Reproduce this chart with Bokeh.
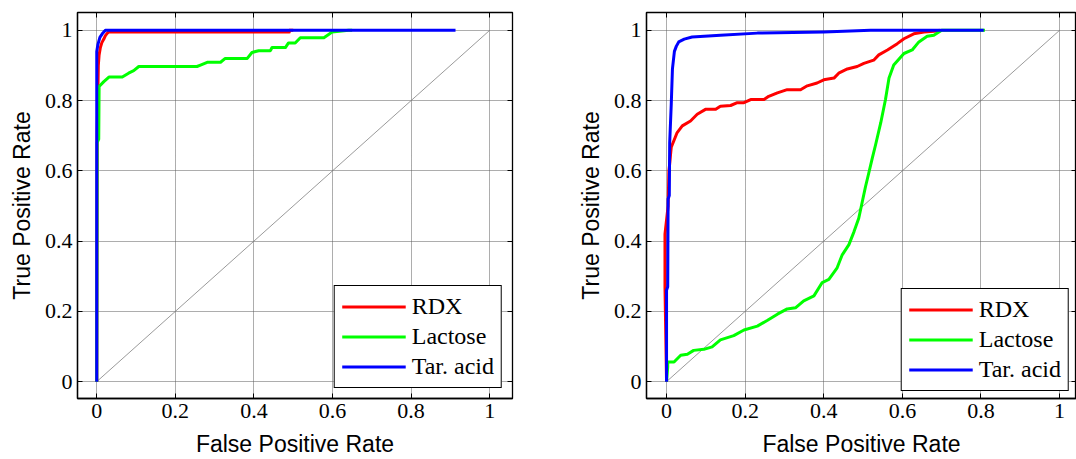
from bokeh.plotting import figure
from bokeh.models import Range1d, LinearAxis, FixedTicker, Legend, LegendItem
from bokeh.layouts import row
from bokeh.embed import file_html
from bokeh.resources import INLINE

# ---------------- data ----------------
tick_values = [0, 0.2, 0.4, 0.6, 0.8, 1]
tick_labels = ["0", "0.2", "0.4", "0.6", "0.8", "1"]
series_names = ["RDX", "Lactose", "Tar. acid"]
series_colors = ["#ff0000", "#00ff00", "#0000ff"]
x_title = "False Positive Rate"
y_title = "True Positive Rate"

chance_fpr = [0, 1]
chance_tpr = [0, 1]

# left panel
left_rdx_fpr = [0, 0.001, 0.004, 0.006, 0.009, 0.013, 0.018, 0.022, 0.027, 0.03, 0.49, 0.49, 0.5]
left_rdx_tpr = [0, 0.70, 0.90, 0.93, 0.95, 0.965, 0.975, 0.985, 0.992, 0.995, 0.995, 1.0, 1.0]

left_lac_fpr = [0, 0.001, 0.005, 0.006, 0.018, 0.031, 0.065, 0.081, 0.094, 0.107, 0.255, 0.264, 0.281,
                0.315, 0.327, 0.383, 0.395, 0.412, 0.442, 0.446, 0.480, 0.488, 0.505, 0.518, 0.578,
                0.590, 0.599, 0.641, 0.65]
left_lac_tpr = [0, 0.68, 0.69, 0.84, 0.854, 0.867, 0.867, 0.878, 0.885, 0.897, 0.897, 0.901, 0.909,
                0.909, 0.920, 0.920, 0.937, 0.942, 0.942, 0.951, 0.951, 0.964, 0.964, 0.979, 0.979,
                0.988, 0.995, 1.0, 1.0]

left_tar_fpr = [0, 0, 0.003, 0.008, 0.014, 0.022, 0.913]
left_tar_tpr = [0, 0.94, 0.96, 0.98, 0.99, 1.0, 1.0]

# right panel
right_rdx_fpr = [0, -0.004, -0.004, 0.004, 0.006, 0.008, 0.010, 0.012, 0.027, 0.040, 0.061, 0.078, 0.099,
                 0.125, 0.137, 0.163, 0.180, 0.197, 0.214, 0.248, 0.260, 0.282, 0.307, 0.341, 0.358,
                 0.383, 0.400, 0.426, 0.438, 0.460, 0.485, 0.502, 0.527, 0.540, 0.562, 0.587, 0.604,
                 0.629, 0.655, 0.689, 0.695]
right_rdx_tpr = [0, 0.27, 0.42, 0.50, 0.60, 0.62, 0.645, 0.667, 0.709, 0.728, 0.742, 0.761, 0.775,
                 0.775, 0.784, 0.786, 0.794, 0.794, 0.803, 0.803, 0.812, 0.822, 0.831, 0.831, 0.842,
                 0.850, 0.859, 0.864, 0.878, 0.890, 0.897, 0.906, 0.915, 0.930, 0.944, 0.962, 0.976,
                 0.990, 0.995, 0.998, 1.0]

right_lac_fpr = [0, 0.003, 0.003, 0.019, 0.036, 0.053, 0.069, 0.095, 0.116, 0.137, 0.171, 0.197, 0.231,
                 0.256, 0.282, 0.307, 0.328, 0.349, 0.375, 0.396, 0.413, 0.434, 0.447, 0.464, 0.477,
                 0.489, 0.498, 0.506, 0.515, 0.523, 0.532, 0.545, 0.557, 0.566, 0.578, 0.604, 0.625,
                 0.642, 0.663, 0.680, 0.693, 0.700, 0.810]
right_lac_tpr = [0, 0.042, 0.056, 0.056, 0.075, 0.078, 0.089, 0.092, 0.099, 0.119, 0.131, 0.147, 0.158,
                 0.174, 0.192, 0.207, 0.210, 0.230, 0.244, 0.282, 0.291, 0.324, 0.361, 0.390, 0.427,
                 0.465, 0.512, 0.554, 0.596, 0.634, 0.675, 0.737, 0.803, 0.864, 0.901, 0.934, 0.944,
                 0.967, 0.983, 0.986, 0.995, 1.0, 1.0]

right_tar_fpr = [0, 0, 0.003, 0.004, 0.007, 0.008, 0.012, 0.015, 0.020, 0.025, 0.031, 0.045, 0.065,
                 0.137, 0.231, 0.400, 0.519, 0.807]
right_tar_tpr = [0, 0.26, 0.27, 0.52, 0.53, 0.68, 0.79, 0.89, 0.94, 0.955, 0.967, 0.975, 0.981,
                 0.986, 0.992, 0.995, 1.0, 1.0]


def build_panel(curves, x_start, x_end, y_start, y_end, width, border_left, border_right, legend_margin):
    p = figure(width=width, height=459,
               x_range=Range1d(x_start, x_end), y_range=Range1d(y_start, y_end),
               output_backend="svg", toolbar_location=None,
               min_border_left=border_left, min_border_right=border_right,
               min_border_top=12, min_border_bottom=57,
               background_fill_color="white", border_fill_color="white")
    p.outline_line_color = "black"
    p.outline_line_width = 1.3
    p.outline_line_alpha = 1

    overrides = {v: l for v, l in zip(tick_values, tick_labels)}
    for ax in (p.xaxis[0], p.yaxis[0]):
        ax.ticker = FixedTicker(ticks=tick_values)
        ax.major_label_overrides = overrides
        ax.major_label_text_font = "Liberation Serif"
        ax.major_label_text_font_size = "22px"
        ax.major_label_text_color = "black"
        ax.major_tick_in = 5
        ax.major_tick_out = 0
        ax.minor_tick_in = 0
        ax.minor_tick_out = 0
        ax.axis_line_color = "black"
        ax.axis_line_width = 1.3
        ax.major_tick_line_color = "black"
        ax.axis_label_text_font = "Liberation Sans"
        ax.axis_label_text_font_size = "23px"
        ax.axis_label_text_font_style = "normal"
        ax.axis_label_text_color = "black"
    p.xaxis[0].axis_label = x_title
    p.yaxis[0].axis_label = y_title
    p.xaxis[0].major_label_standoff = 5
    p.xaxis[0].axis_label_standoff = 10
    p.yaxis[0].major_label_standoff = 5
    p.yaxis[0].axis_label_standoff = 7

    for side in ("above", "right"):
        ax = LinearAxis(ticker=FixedTicker(ticks=tick_values),
                        major_tick_in=5, major_tick_out=0,
                        minor_tick_in=0, minor_tick_out=0,
                        major_label_text_font_size="0px",
                        major_label_text_color=None,
                        major_label_standoff=0,
                        axis_line_color="black", major_tick_line_color="black")
        p.add_layout(ax, side)

    for g in (p.xgrid[0], p.ygrid[0]):
        g.grid_line_color = "#5a5a5a"
        g.grid_line_dash = "1 1"
        g.grid_line_width = 1

    p.line(chance_fpr, chance_tpr, line_color="#808080", line_width=0.8)

    items = []
    for name, color, xs, ys in curves:
        r = p.line(xs, ys, line_color=color, line_width=3, line_join="round")
        items.append(LegendItem(label=name, renderers=[r]))

    legend = Legend(items=items, location="bottom_right", margin=legend_margin,
                    border_line_color="black", border_line_width=1.3, border_line_alpha=1,
                    background_fill_color="white", background_fill_alpha=1,
                    label_text_font="Liberation Serif", label_text_font_size="24px",
                    label_text_color="black",
                    glyph_width=64, glyph_height=27, label_height=27, label_standoff=6,
                    spacing=3, padding=7)
    p.add_layout(legend)
    return p


left_curves = [
    (series_names[0], series_colors[0], left_rdx_fpr, left_rdx_tpr),
    (series_names[1], series_colors[1], left_lac_fpr, left_lac_tpr),
    (series_names[2], series_colors[2], left_tar_fpr, left_tar_tpr),
]
right_curves = [
    (series_names[0], series_colors[0], right_rdx_fpr, right_rdx_tpr),
    (series_names[1], series_colors[1], right_lac_fpr, right_lac_tpr),
    (series_names[2], series_colors[2], right_tar_fpr, right_tar_tpr),
]

p1 = build_panel(left_curves, -0.049, 1.058, -0.048, 1.0507, 560, 77, 48, 10)
p2 = build_panel(right_curves, -0.051, 1.043, -0.048, 1.0507, 516, 86, 0, 7)

layout = row(p1, p2)
open("out.html", "w").write(file_html(layout, INLINE))
